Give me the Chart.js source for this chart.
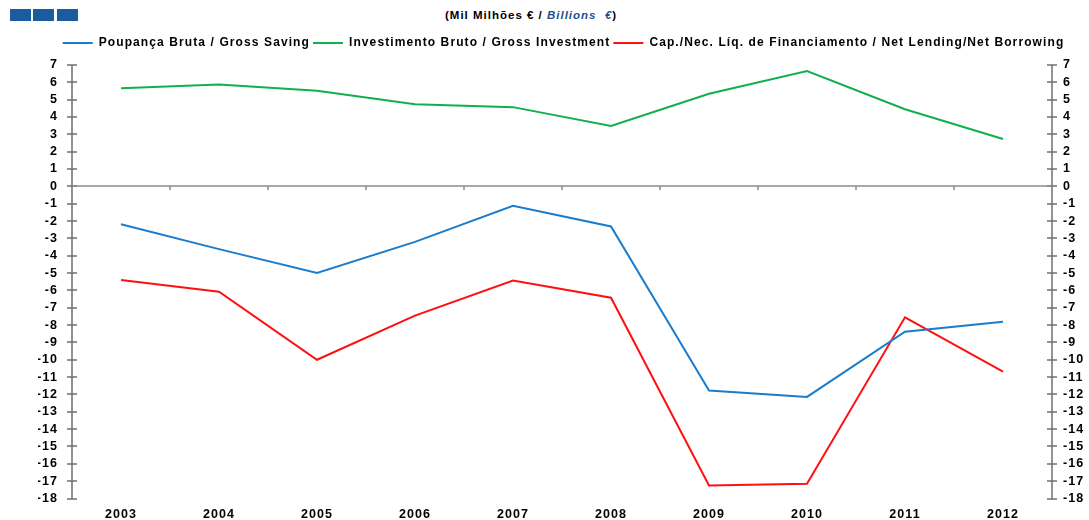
<!DOCTYPE html>
<html>
<head>
<meta charset="utf-8">
<title>Poupança e Investimento</title>
<script src="https://cdn.jsdelivr.net/npm/chart.js@4.4.1/dist/chart.umd.min.js"></script>
<style>
  body { margin: 0; background: #fff; }
  #wrap { position: relative; width: 1089px; height: 520px; overflow: hidden; }
  .sq { position: absolute; top: 9px; width: 21px; height: 12px; background: #1b5c9e; }
  #title {
    position: absolute; top: 9px; left: 445px; white-space: nowrap;
    font: bold 11.5px "Liberation Sans", Arial, sans-serif; letter-spacing: 1px; color: #000;
  }
  #title i { color: #1f4e8c; }
  #box { position: absolute; left: 0; top: 30px; width: 1089px; height: 490px; }
</style>
</head>
<body>
<div id="wrap">
  <div class="sq" style="left:10px"></div>
  <div class="sq" style="left:33px"></div>
  <div class="sq" style="left:57px"></div>
  <div id="title">(Mil Milhões € / <i>Billions&nbsp; €</i>)</div>
  <div id="box"><canvas id="chart"></canvas></div>
</div>
<script>
const years = ['2003', '2004', '2005', '2006', '2007', '2008', '2009', '2010', '2011', '2012']
const grossSaving = [-2.18, -3.62, -4.99, -3.2, -1.12, -2.31, -11.77, -12.14, -8.38, -7.8]
const grossInvestment = [5.66, 5.87, 5.51, 4.74, 4.57, 3.49, 5.34, 6.65, 4.45, 2.73]
const netLending = [-5.4, -6.07, -10.0, -7.45, -5.43, -6.42, -17.25, -17.15, -7.55, -10.68]
const yTicks = { min: -18, max: 7, step: 1 }

const family = '"Liberation Sans", Arial, sans-serif'
const tickFont = { family, size: 12.5, weight: 'bold' }
const legendFont = { family, size: 12, weight: 'bold' }

// wide, spaced-out lettering for every canvas text
// (canvas state is reset on resize, so set it before layout and before drawing)
const spacing = {
  id: 'spacing',
  beforeUpdate (chart) { chart.ctx.letterSpacing = '1.1px' },
  beforeDraw (chart) { chart.ctx.letterSpacing = '1.1px' },
  beforeLayout (chart) {
    // leave a little room between the legend row and the plot
    const legend = chart.legend
    if (legend && !legend._padded) {
      const fit = legend.fit
      legend.fit = function () {
        fit.call(this)
        this.height += 6
      }
      legend._padded = true
    }
  }
}

// axis lines with ticks crossing them, plus the zero line with category ticks
const axisLines = {
  id: 'axisLines',
  beforeDatasetsDraw (chart) {
    const { ctx, chartArea: a, scales } = chart
    const y = scales.y
    const x = scales.x
    ctx.save()
    ctx.strokeStyle = '#707070'
    ctx.lineWidth = 1.5
    ctx.beginPath()
    ;[a.left, a.right].forEach(px => {
      ctx.moveTo(px, a.top)
      ctx.lineTo(px, a.bottom)
      y.ticks.forEach(t => {
        const py = Math.round(y.getPixelForValue(t.value))
        ctx.moveTo(px - 5, py)
        ctx.lineTo(px + 5, py)
      })
    })
    ctx.stroke()
    const y0 = Math.round(y.getPixelForValue(0))
    ctx.strokeStyle = '#8c8c8c'
    ctx.beginPath()
    ctx.moveTo(a.left, y0)
    ctx.lineTo(a.right, y0)
    for (let i = 1; i < years.length; i++) {
      const px = Math.round((x.getPixelForValue(i - 1) + x.getPixelForValue(i)) / 2)
      ctx.moveTo(px, y0)
      ctx.lineTo(px, y0 + 4)
    }
    ctx.stroke()
    ctx.restore()
  }
}

const lineSet = (label, data, color) => ({
  label, data, borderColor: color, backgroundColor: color, borderWidth: 2,
  pointRadius: 0, tension: 0, fill: false
})

new Chart(document.getElementById('chart'), {
  type: 'line',
  data: {
    labels: years,
    datasets: [
      lineSet('Poupança Bruta / Gross Saving', grossSaving, '#1a7ccc'),
      lineSet('Investimento Bruto / Gross Investment', grossInvestment, '#10b050'),
      lineSet('Cap./Nec. Líq. de Financiamento / Net Lending/Net Borrowing', netLending, '#ff1010')
    ]
  },
  options: {
    responsive: true,
    maintainAspectRatio: false,
    animation: false,
    layout: { padding: { top: 4, left: 38, right: 0, bottom: 0 } },
    plugins: {
      tooltip: { enabled: false },
      legend: {
        position: 'top',
        labels: {
          color: '#000',
          font: legendFont,
          boxWidth: 30,
          boxHeight: 2,
          padding: 3,
          generateLabels (chart) {
            return Chart.defaults.plugins.legend.labels.generateLabels(chart).map(it => {
              it.fillStyle = it.strokeStyle
              it.lineWidth = 0
              return it
            })
          }
        }
      }
    },
    scales: {
      x: {
        offset: true,
        grid: { display: false, drawTicks: false },
        border: { display: false },
        ticks: { color: '#000', font: tickFont, padding: 9, maxRotation: 0, autoSkip: false },
        afterFit (s) { s.height = 21 }
      },
      y: {
        position: 'left',
        min: yTicks.min,
        max: yTicks.max,
        grid: { display: false, drawTicks: false },
        border: { display: false },
        ticks: { stepSize: yTicks.step, color: '#000', font: tickFont, padding: 14, autoSkip: false },
        afterFit (s) { s.width = 34 }
      },
      y2: {
        position: 'right',
        min: yTicks.min,
        max: yTicks.max,
        grid: { display: false, drawTicks: false },
        border: { display: false },
        ticks: { stepSize: yTicks.step, color: '#000', font: tickFont, padding: 11, autoSkip: false },
        afterFit (s) { s.width = 37 }
      }
    }
  },
  plugins: [spacing, axisLines]
})
</script>
</body>
</html>
